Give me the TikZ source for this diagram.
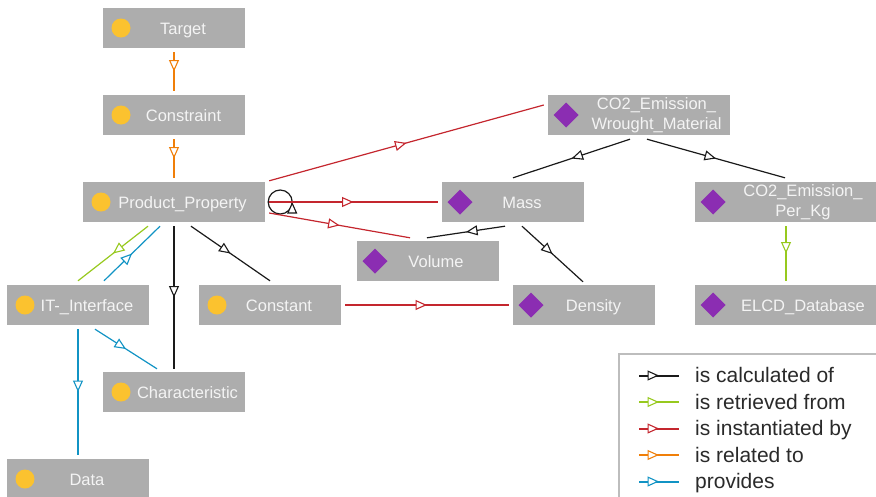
\documentclass[tikz,border=0pt]{standalone}
\usepackage{fontspec}
\setmainfont{Liberation Sans}
\usetikzlibrary{arrows.meta,decorations.markings}

\definecolor{boxgray}{HTML}{ADADAD}
\definecolor{boxtext}{HTML}{F4F4F4}
\definecolor{dotyellow}{HTML}{FBC22F}
\definecolor{diapurple}{HTML}{8B2DB2}
\definecolor{linkblack}{HTML}{1A1A1A}
\definecolor{linkgreen}{HTML}{97C91E}
\definecolor{linkred}{HTML}{C4262E}
\definecolor{linkorange}{HTML}{F07F09}
\definecolor{linkblue}{HTML}{1193C4}
\definecolor{legendgray}{HTML}{BDBDBD}
\definecolor{legendtext}{HTML}{2A2A2A}

\tikzset{
  midtip/.tip={Triangle[length=11.5pt,width=10pt,fill=white,line width=1.1pt]}
}

\begin{document}
\begin{tikzpicture}
  [x=1pt,y=-1pt,
   box/.style={fill=boxgray,minimum width=142pt,minimum height=40pt,inner sep=0pt,
     text=boxtext,font=\fontsize{16.5}{19.8}\selectfont,align=center,
     text height=12.5pt,text depth=0pt},
   widebox/.style={box,minimum width=182pt},
   twolines/.style={text height=,text depth=},
   concept/.style={box,path picture={\fill[dotyellow]
     ([xshift=18pt]path picture bounding box.west) circle (9.5pt);}},
   individual/.style={box,path picture={\fill[diapurple]
     ([xshift=18pt]path picture bounding box.west) +(-12.5,0) -- +(0,12.5) -- +(12.5,0) -- +(0,-12.5) -- cycle;}},
   rel/.style={line width=1.2pt,postaction={decorate,decoration={markings,
     mark=at position 0.5 with {\arrow{midtip}}}}},
   heavy/.style={line width=2pt},
   calcof/.style={rel,draw=linkblack},
   retrieved/.style={rel,draw=linkgreen},
   instof/.style={rel,draw=linkred},
   relto/.style={rel,draw=linkorange},
   provides/.style={rel,draw=linkblue},
   legtext/.style={text=legendtext,font=\fontsize{21}{25}\selectfont,inner sep=0pt,anchor=base west}]
  \useasboundingbox (0,0) rectangle (876,496);
  \clip (0,0) rectangle (876,496);

  % concepts
  \node[concept] (target) at (174,28) {\hspace*{18pt}Target};
  \node[concept] (constr) at (174,115) {\hspace*{19pt}Constraint};
  \node[concept,widebox] (pp) at (174,202) {\hspace*{17pt}Product\_Property};
  \node[concept] (it) at (78,305) {\hspace*{18pt}IT-\_Interface};
  \node[concept] (const) at (270,305) {\hspace*{18pt}Constant};
  \node[concept] (char) at (174,392) {\hspace*{27pt}Characteristic};
  \node[concept] (data) at (78,479) {\hspace*{18pt}Data};

  % individuals
  \node[individual,widebox,twolines] (co2w) at (639,115) {\hspace*{35pt}CO2\_Emission\_\\\hspace*{35pt}Wrought\_Material};
  \node[individual] (mass) at (513,202) {\hspace*{18pt}Mass};
  \node[individual] (vol) at (428,261) {\hspace*{16pt}Volume};
  \node[individual] (dens) at (584,305) {\hspace*{19pt}Density};
  \node[individual,widebox,twolines] (co2k) at (786,202) {\hspace*{34pt}CO2\_Emission\_\\\hspace*{34pt}Per\_Kg};
  \node[individual,widebox] (elcd) at (786,305) {\hspace*{34pt}ELCD\_Database};

  % is related to
  \draw[relto,heavy] ([yshift=-4pt]target.south) -- ([yshift=4pt]constr.north);
  \draw[relto,heavy] ([yshift=-4pt]constr.south) -- ([yshift=4pt]pp.north);

  % is retrieved from
  \draw[retrieved] ([xshift=-26pt,yshift=-4pt]pp.south) -- ([yshift=4pt]it.north);
  \draw[retrieved,heavy] ([yshift=-4pt]co2k.south) -- ([yshift=4pt]elcd.north);

  % provides
  \draw[provides] ([xshift=26pt,yshift=4pt]it.north) -- ([xshift=-14pt,yshift=-4pt]pp.south);
  \draw[provides] ([xshift=17pt,yshift=-4pt]it.south) -- ([xshift=-17pt,yshift=3pt]char.north);
  \draw[provides,heavy] ([yshift=-4pt]it.south) -- ([yshift=4pt]data.north);

  % is calculated of
  \draw[calcof,heavy] ([yshift=-4pt]pp.south) -- ([yshift=3pt]char.north);
  \draw[calcof] ([xshift=17pt,yshift=-4pt]pp.south) -- ([yshift=4pt]const.north);
  \draw[calcof] ([xshift=3pt]pp.east) arc[start angle=180,end angle=540,radius=12pt];
  \draw[calcof] ([xshift=-9pt,yshift=-4pt]co2w.south) -- ([yshift=4pt]mass.north);
  \draw[calcof] ([xshift=8pt,yshift=-4pt]co2w.south) -- ([xshift=-1pt,yshift=4pt]co2k.north);
  \draw[calcof] ([xshift=-8pt,yshift=-4pt]mass.south) -- ([xshift=-1pt,yshift=3pt]vol.north);
  \draw[calcof] ([xshift=9pt,yshift=-4pt]mass.south) -- ([xshift=-1pt,yshift=3pt]dens.north);

  % is instantiated by
  \draw[instof] ([xshift=4pt,yshift=1pt]pp.north east) -- ([xshift=-4pt,yshift=10pt]co2w.west);
  \draw[instof,heavy] ([xshift=4pt]pp.east) -- ([xshift=-4pt]mass.west);
  \draw[instof] ([xshift=4pt,yshift=-11pt]pp.east) -- ([xshift=-18pt,yshift=3pt]vol.north);
  \draw[instof,heavy] ([xshift=4pt]const.east) -- ([xshift=-4pt]dens.west);

  % legend
  \draw[legendgray,line width=2pt] (619,354) rectangle (890,510);
  \foreach \i/\sty/\txt in {0/calcof/is calculated of,1/retrieved/is retrieved from,
      2/instof/is instantiated by,3/relto/is related to,4/provides/provides} {
    \coordinate (la\i) at (639,{375.5+26.5*\i});
    \coordinate (lb\i) at (679,{375.5+26.5*\i});
    \draw[style=\sty,heavy] (la\i) -- (lb\i);
    \node[legtext] (lt\i) at (695,{382.5+26.5*\i}) {\txt};
  }
\end{tikzpicture}
\end{document}
